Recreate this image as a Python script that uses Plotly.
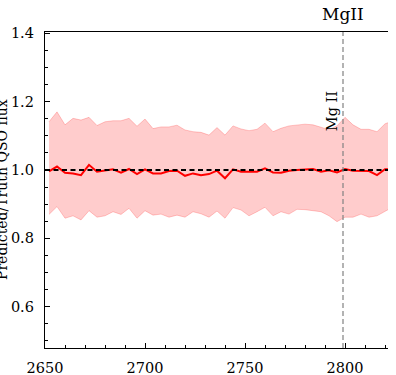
import numpy as np
import plotly.graph_objects as go

# Rest-frame wavelength grid (Angstrom)
wavelength = [2652 + 4 * i for i in range(44)]

# Median predicted/true flux ratio
ratio_median = [
    0.996, 1.010, 0.992, 0.990, 0.985, 1.015, 0.995, 0.998, 1.002, 0.992,
    1.003, 0.988, 1.002, 0.990, 0.990, 0.997, 0.998, 0.983, 0.990, 0.985,
    0.988, 0.998, 0.976, 1.002, 0.995, 0.995, 0.995, 1.005, 0.993, 0.992,
    0.998, 1.000, 1.002, 1.003, 0.995, 0.999, 0.993, 1.003, 0.998, 0.998,
    0.997, 0.985, 1.002, 1.002,
]

# Upper / lower envelope of the ratio distribution
ratio_upper = [
    1.141, 1.170, 1.132, 1.151, 1.146, 1.154, 1.130, 1.141, 1.144, 1.144,
    1.151, 1.128, 1.149, 1.121, 1.126, 1.126, 1.131, 1.117, 1.112, 1.110,
    1.102, 1.124, 1.102, 1.129, 1.120, 1.115, 1.119, 1.137, 1.112, 1.122,
    1.129, 1.132, 1.134, 1.132, 1.125, 1.118, 1.129, 1.154, 1.132, 1.119,
    1.119, 1.112, 1.135, 1.144,
]
ratio_lower = [
    0.870, 0.893, 0.859, 0.866, 0.854, 0.881, 0.862, 0.866, 0.878, 0.870,
    0.888, 0.859, 0.881, 0.868, 0.871, 0.862, 0.868, 0.862, 0.878, 0.872,
    0.862, 0.880, 0.859, 0.890, 0.883, 0.866, 0.878, 0.891, 0.866, 0.878,
    0.871, 0.885, 0.884, 0.882, 0.878, 0.866, 0.849, 0.862, 0.862, 0.871,
    0.862, 0.866, 0.880, 0.892,
]

line_name = "MgII"
line_label = "Mg II"
line_wave = 2799

x_range = [2650, 2821.5]
y_range = [0.4795, 1.4035]
serif = "DejaVu Serif"

fig = go.Figure()

band_rgba = "rgba(255,0,0,0.2)"
fig.add_trace(go.Scatter(
    x=wavelength, y=ratio_lower, mode="lines",
    line=dict(color=band_rgba, width=1), showlegend=False, hoverinfo="skip",
))
fig.add_trace(go.Scatter(
    x=wavelength, y=ratio_upper, mode="lines", fill="tonexty",
    fillcolor=band_rgba, line=dict(color=band_rgba, width=1),
    showlegend=False, hoverinfo="skip",
))

# Emission-line marker
fig.add_shape(
    type="line", xref="x", yref="paper", x0=line_wave, x1=line_wave, y0=0, y1=1,
    line=dict(color="rgba(128,128,128,0.6)", width=2, dash="5px,3px"),
)

fig.add_trace(go.Scatter(
    x=wavelength, y=ratio_median, mode="lines",
    line=dict(color="red", width=2), showlegend=False,
))

# Unity reference
fig.add_trace(go.Scatter(
    x=x_range, y=[1.0, 1.0], mode="lines",
    line=dict(color="black", width=2, dash="5px,3.5px"), showlegend=False,
))

fig.add_annotation(
    x=line_wave, y=1.0554, xref="x", yref="paper", text=line_name,
    showarrow=False, font=dict(family=serif, size=17, color="black"),
    xanchor="center", yanchor="middle",
)
fig.add_annotation(
    x=line_wave - 5.4, y=1.1725, xref="x", yref="y", text=line_label,
    textangle=-90, showarrow=False,
    font=dict(family=serif, size=14.5, color="black"),
    xanchor="center", yanchor="middle",
)
fig.add_annotation(
    x=(2 - 45) / 343, y=0.5, xref="paper", yref="paper",
    text="Predicted/Truth QSO flux", textangle=-90, showarrow=False,
    font=dict(family=serif, size=14, color="black"),
    xanchor="center", yanchor="middle",
)

axis_common = dict(
    showgrid=False, zeroline=False, showline=True, linecolor="black",
    linewidth=1.3, ticks="inside", ticklen=5, tickwidth=1, tickcolor="black",
    tickfont=dict(family=serif, size=14.5, color="black"), automargin=False,
)

fig.update_xaxes(
    range=x_range, tickmode="linear", tick0=2650, dtick=50, mirror=True,
    ticklabelstandoff=6,
    minor=dict(ticks="inside", ticklen=3, tickwidth=1, tickcolor="black",
               dtick=10, tick0=2650, showgrid=False),
    **axis_common,
)
fig.update_yaxes(
    range=y_range, tickmode="linear", tick0=0, dtick=0.2, tickformat=".1f",
    ticklabelstandoff=7,
    minor=dict(ticks="inside", ticklen=3, tickwidth=1, tickcolor="black",
               dtick=0.05, tick0=0, showgrid=False),
    **axis_common,
)

fig.update_layout(
    width=396, height=375,
    margin=dict(l=45, r=8, t=32, b=27, autoexpand=False),
    plot_bgcolor="white", paper_bgcolor="white",
    font=dict(family=serif, color="black"),
)

fig.write_html("out.html")
